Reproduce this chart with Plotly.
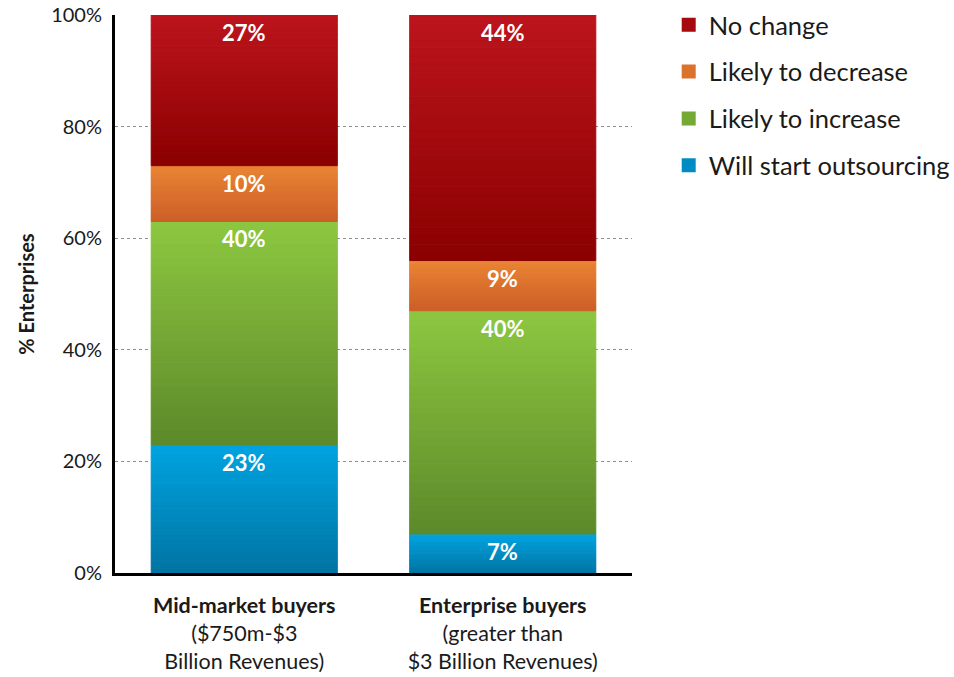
import plotly.graph_objects as go

# Survey categories (bold title + revenue band)
categories = [
    "<b>Mid-market buyers</b><br>($750m-$3<br>Billion Revenues)",
    "<b>Enterprise buyers</b><br>(greater than<br>$3 Billion Revenues)",
]

# Stacked shares, bottom to top (percent of enterprises)
series_names = ["Will start outsourcing", "Likely to increase", "Likely to decrease", "No change"]
will_start_outsourcing = [23, 7]
likely_to_increase = [40, 40]
likely_to_decrease = [10, 9]
no_change = [27, 44]

y_tick_values = [0, 20, 40, 60, 80, 100]
y_tick_labels = ["0%", "20%", "40%", "60%", "80%", "100%"]

series_values = [will_start_outsourcing, likely_to_increase, likely_to_decrease, no_change]

# (top colour, bottom colour) for each segment's vertical gradient
gradients = [
    ((0, 163, 224), (0, 116, 163)),
    ((141, 199, 64), (92, 137, 42)),
    ((234, 132, 52), (203, 94, 40)),
    ((188, 20, 28), (138, 0, 0)),
]
legend_rank = [4, 3, 2, 1]

FONT = "Lato"
SLICES = 30


def mix(top, bottom, t):
    r, g, b = (round(bottom[i] + (top[i] - bottom[i]) * t) for i in range(3))
    return f"rgb({r},{g},{b})"


fig = go.Figure()

cumulative = [0.0] * len(categories)
annotations = []
for s, (name, values) in enumerate(zip(series_names, series_values)):
    top, bottom = gradients[s]
    for k in range(SLICES):
        colour = mix(top, bottom, (k + 0.5) / SLICES)
        fig.add_trace(go.Bar(
            x=categories,
            y=[v / SLICES for v in values],
            base=[c + v * k / SLICES for c, v in zip(cumulative, values)],
            marker=dict(color=colour, line=dict(width=1, color=colour)),
            name=name,
            legendgroup=name,
            legendrank=legend_rank[s],
            showlegend=(k == SLICES // 2),
            hoverinfo="skip",
        ))
    for i, (c, v) in enumerate(zip(cumulative, values)):
        annotations.append(dict(
            x=categories[i], y=c + v, xref="x", yref="y",
            text=f"<b>{v}%</b>", showarrow=False,
            yanchor="top", yshift=-2,
            font=dict(family=FONT, size=22, color="white"),
        ))
    cumulative = [c + v for c, v in zip(cumulative, values)]

fig.update_layout(
    width=954, height=677,
    margin=dict(l=115, r=322, t=15, b=104, autoexpand=False),
    paper_bgcolor="white", plot_bgcolor="white",
    barmode="overlay", bargap=0.28,
    font=dict(family=FONT, size=20, color="#1a1a1a"),
    annotations=annotations,
    legend=dict(
        x=1.071, xanchor="left", y=1.024, yanchor="top",
        font=dict(family=FONT, size=25.5, color="#1a1a1a"),
        tracegroupgap=10.7, itemsizing="constant",
        bgcolor="rgba(0,0,0,0)",
    ),
    showlegend=True,
)

fig.update_yaxes(
    range=[0, 100], tickvals=y_tick_values, ticktext=y_tick_labels,
    showgrid=True, gridcolor="#8f8f8f", griddash="dot", gridwidth=1,
    showline=True, linecolor="black", linewidth=3, zeroline=False,
    ticks="", ticklabelstandoff=6, automargin=False,
    tickfont=dict(family=FONT, size=20, color="#1a1a1a"),
    title=dict(text="<b>% Enterprises</b>", standoff=12,
               font=dict(family=FONT, size=20, color="#1a1a1a")),
)
fig.update_xaxes(
    showline=True, linecolor="black", linewidth=3,
    ticks="", ticklabelstandoff=11, automargin=False,
    tickfont=dict(family=FONT, size=21.5, color="#1a1a1a"),
)

fig.write_html("out.html")
